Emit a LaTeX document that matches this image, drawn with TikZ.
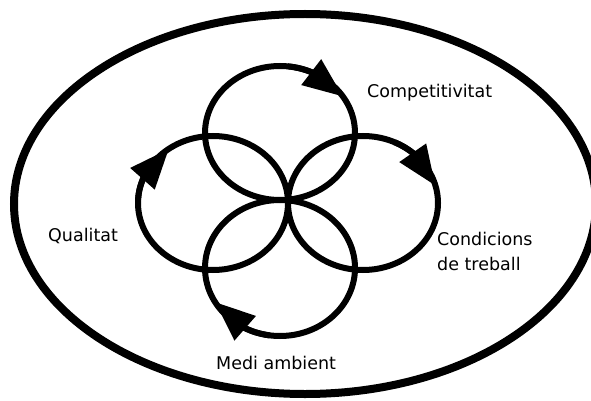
\documentclass[tikz,border=0pt]{standalone}
\usepackage{fontspec}
\setmainfont{DejaVu Sans}
\usetikzlibrary{arrows.meta,bending}
\begin{document}
\begin{tikzpicture}[x=1pt,y=1pt,
  frame/.style={line width=8pt},
  ring/.style={line width=6pt},
  head/.style={line width=6pt,-{Triangle[length=40pt,width=31pt,flex]}},
  lbl/.style={inner sep=0pt,anchor=base west,align=left,
    font=\fontsize{17.5}{25}\selectfont}]
\useasboundingbox (0,0) rectangle (591,-401);
% outer boundary
\draw[frame] (305,-204) ellipse [x radius=291, y radius=190];
% centres of the four cycles
\coordinate (ctop) at (280,-133);
\coordinate (cleft) at (213,-203);
\coordinate (cright) at (363,-203);
\coordinate (cbot) at (280,-268);
% the four rings
\draw[ring] (ctop) ellipse [x radius=75, y radius=67];
\draw[ring] (cright) ellipse [x radius=75, y radius=67];
\draw[ring] (cleft) ellipse [x radius=75, y radius=67];
\draw[ring] (cbot) ellipse [x radius=75, y radius=68];
% clockwise arrow heads, each on a short arc of its ring
\draw[head] (ctop) ++(84:75 and 67)
  arc[start angle=84, end angle=33, x radius=75, y radius=67];
\draw[head] (cright) ++(65:75 and 67)
  arc[start angle=65, end angle=15, x radius=75, y radius=67];
\draw[head] (cleft) ++(177:75 and 67)
  arc[start angle=177, end angle=126, x radius=75, y radius=67];
\draw[head] (cbot) ++(-98:75 and 68)
  arc[start angle=-98, end angle=-150, x radius=75, y radius=68];
% labels
\node[lbl] (comp) at (367,-98) {Competitivitat};
\node[lbl] (qual) at (48,-241) {Qualitat};
\node[lbl] (cond) at (437,-270) {Condicions\\de treball};
\node[lbl] (medi) at (216,-369) {Medi ambient};
\end{tikzpicture}
\end{document}
